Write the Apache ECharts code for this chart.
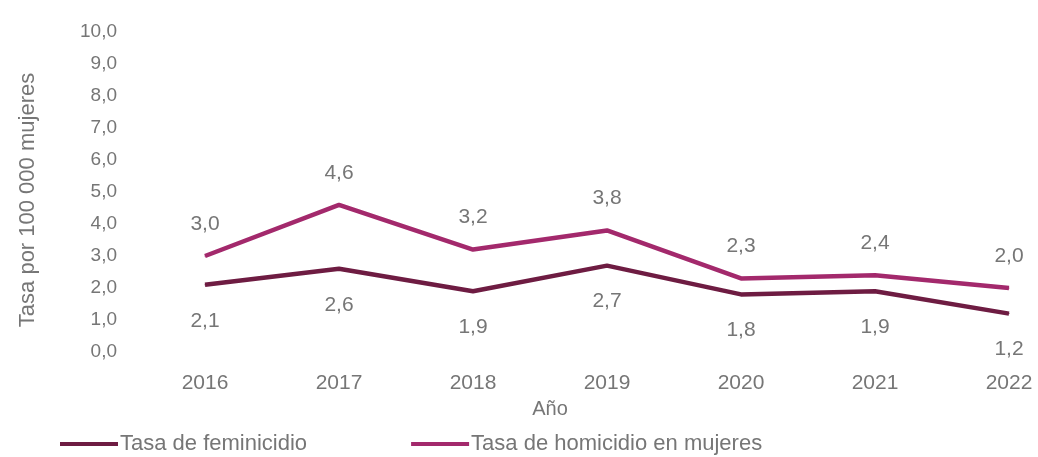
<!DOCTYPE html>
<html>
<head>
<meta charset="utf-8">
<script src="https://cdn.jsdelivr.net/npm/echarts@6/dist/echarts.min.js"></script>
<style>
  html, body { margin: 0; padding: 0; background: #fff; }
  #chart { width: 1038px; height: 457px; }
</style>
</head>
<body>
<div id="chart"></div>
<script>
// datos
const years = ['2016', '2017', '2018', '2019', '2020', '2021', '2022'];
const feminicidio = [2.1, 2.6, 1.9, 2.7, 1.8, 1.9, 1.2];
const homicidio = [3.0, 4.6, 3.2, 3.8, 2.3, 2.4, 2.0];
const seriesNames = ['Tasa de feminicidio', 'Tasa de homicidio en mujeres'];

const coma = v => v.toFixed(1).replace('.', ',');
const textColor = '#767676';
const font = 'Liberation Sans, Arial, sans-serif';

const chart = echarts.init(document.getElementById('chart'));
chart.setOption({
  animation: false,
  textStyle: { fontFamily: font },
  grid: { left: 205, right: 29, top: 32, bottom: 105 },
  legend: {
    left: 55,
    top: 428,
    itemWidth: 58,
    itemHeight: 4,
    itemGap: 104,
    icon: 'rect',
    textStyle: { color: textColor, fontSize: 22, fontFamily: font, padding: [0, 0, 0, -3] },
    data: seriesNames
  },
  xAxis: {
    type: 'category',
    data: years,
    boundaryGap: false,
    name: 'Año',
    nameLocation: 'middle',
    nameGap: 47,
    nameTextStyle: { color: textColor, fontSize: 20, padding: [0, 114, 0, 0] },
    axisLine: { show: false },
    axisTick: { show: false },
    axisLabel: { color: textColor, fontSize: 21, margin: 21 }
  },
  yAxis: {
    type: 'value',
    min: 0,
    max: 10,
    interval: 1,
    name: 'Tasa por 100 000 mujeres',
    nameLocation: 'middle',
    nameGap: 166,
    nameTextStyle: { color: textColor, fontSize: 22, padding: [0, 16, 0, 0] },
    axisLine: { show: false },
    axisTick: { show: false },
    splitLine: { show: false },
    axisLabel: { color: textColor, fontSize: 19, margin: 88, formatter: v => coma(v) }
  },
  series: [
    {
      name: seriesNames[0],
      type: 'line',
      data: feminicidio,
      symbol: 'circle',
      symbolSize: 1,
      color: '#6e1c42',
      lineStyle: { width: 4.5, color: '#6e1c42' },
      label: {
        show: true,
        position: 'bottom',
        distance: 25,
        color: textColor,
        fontSize: 21,
        formatter: p => coma(p.value)
      }
    },
    {
      name: seriesNames[1],
      type: 'line',
      data: homicidio,
      symbol: 'circle',
      symbolSize: 1,
      color: '#a3296c',
      lineStyle: { width: 4.5, color: '#a3296c' },
      label: {
        show: true,
        position: 'top',
        distance: 21,
        color: textColor,
        fontSize: 21,
        formatter: p => coma(p.value)
      }
    }
  ]
});
</script>
</body>
</html>
